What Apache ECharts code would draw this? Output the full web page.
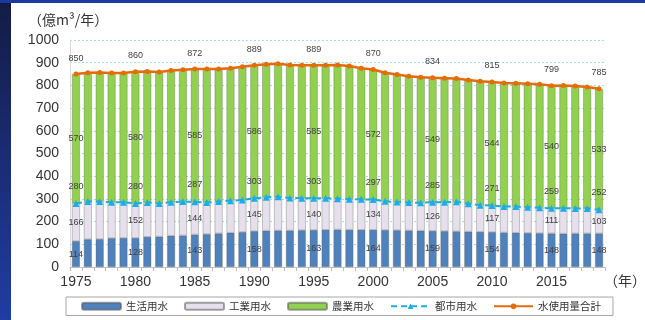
<!DOCTYPE html>
<html><head><meta charset="utf-8">
<script src="https://cdn.jsdelivr.net/npm/echarts@6/dist/echarts.min.js"></script>
<style>html,body{margin:0;padding:0;background:#fff;}#c{width:645px;height:320px;}</style>
</head><body><div id="c"></div>
<script>
const years = [1975,1976,1977,1978,1979,1980,1981,1982,1983,1984,1985,1986,1987,1988,1989,1990,1991,1992,1993,1994,1995,1996,1997,1998,1999,2000,2001,2002,2003,2004,2005,2006,2007,2008,2009,2010,2011,2012,2013,2014,2015,2016,2017,2018,2019];
const domestic = [114,122,123,127,128,128,133,134,138,139,143,145,148,151,154,158,160,161,161,162,163,164,165,164,164,164,163,162,161,160,159,158,157,156,155,154,152,151,150,149,148,147,148,148,148];
const industrial = [166,166,165,158,157,152,151,146,147,149,144,139,140,141,141,145,147,148,143,141,140,139,136,135,134,134,127,124,123,123,126,127,130,123,117,117,114,115,113,112,111,112,110,110,103];
const agricultural = [570,568,569,570,570,580,577,579,581,581,585,588,584,584,587,586,586,586,586,586,585,586,589,586,578,572,566,562,556,553,549,547,543,545,546,544,545,543,544,544,540,541,539,535,533];
const urban = [280,288,288,285,285,280,284,280,285,288,287,284,288,292,295,303,307,309,304,303,303,303,301,299,298,297,290,286,284,283,285,285,287,279,272,271,266,266,263,261,259,259,258,258,252];
const total = [850,856,857,855,855,860,861,859,866,869,872,872,872,876,882,889,893,895,890,889,889,889,890,885,876,870,856,848,840,836,834,832,830,824,818,815,811,809,807,805,799,800,797,793,785];
const labelYears = [1975,1980,1985,1990,1995,2000,2005,2010,2015,2019];
const tickYears = [1975,1980,1985,1990,1995,2000,2005,2010,2015];

const chart = echarts.init(document.getElementById('c'));
const lblFont = {fontSize: 9, color: '#404040', fontFamily: 'Liberation Sans, Arial, sans-serif'};
function withLabels(arr) {
  return arr.map((v, i) => ({value: v, label: {show: labelYears.includes(years[i])}}));
}
const barBorder = {borderColor: 'rgba(90,90,90,0.55)', borderWidth: 0.6};

chart.setOption({
  animation: false,
  backgroundColor: '#ffffff',
  textStyle: {fontFamily: '"Noto Sans CJK JP", "Liberation Sans", sans-serif'},
  grid: {left: 70, right: 40, top: 40, bottom: 53},
  xAxis: {
    type: 'category',
    data: years.map(String),
    boundaryGap: true,
    axisLine: {lineStyle: {color: '#bfbfbf', width: 1}},
    axisTick: {show: true, alignWithLabel: false, length: 4, lineStyle: {color: '#bfbfbf'}, interval: 0},
    axisLabel: {
      interval: (i, v) => tickYears.includes(+v),
      fontSize: 14, color: '#333', margin: 8,
      fontFamily: '"Liberation Sans", Arial, sans-serif'
    }
  },
  yAxis: {
    type: 'value', min: 0, max: 1000, interval: 100,
    axisLine: {show: true, lineStyle: {color: '#d9d9d9'}},
    axisTick: {show: false},
    axisLabel: {fontSize: 14, color: '#333', margin: 11, formatter: v => String(v),
      fontFamily: '"Liberation Sans", Arial, sans-serif'},
    splitLine: {lineStyle: {color: '#a8dcef', type: [2, 2], width: 1}}
  },
  legend: {
    left: 66, top: 297,
    itemWidth: 39, itemHeight: 7, itemGap: 16,
    borderColor: '#a6a6a6', borderWidth: 1, padding: [4, 12, 4, 15],
    textStyle: {fontSize: 10.5, color: '#333', fontFamily: '"Noto Sans CJK JP", sans-serif'},
    data: ['生活用水', '工業用水', '農業用水', '都市用水', '水使用量合計']
  },
  graphic: [
    {type: 'rect', left: 0, top: 0, shape: {width: 11, height: 320}, z: 100,
     style: {fill: new echarts.graphic.LinearGradient(0, 0, 0, 1, [{offset: 0, color: '#141c45'}, {offset: 1, color: '#1f3da3'}])}},
    {type: 'rect', left: 0, top: 0, shape: {width: 645, height: 3}, z: 100, style: {fill: '#1b3aa0'}},
    {type: 'text', left: 28, top: 13, z: 100,
     style: {text: '（億m³/年）', fill: '#333', font: '14px "Noto Sans CJK JP", sans-serif'}},
    {type: 'text', left: 604, top: 274, z: 100,
     style: {text: '（年）', fill: '#333', font: '14px "Noto Sans CJK JP", sans-serif'}}
  ],
  series: [
    {name: '生活用水', type: 'bar', stack: 'w', barWidth: 8,
     itemStyle: Object.assign({color: '#4f81bd'}, barBorder),
     label: Object.assign({position: 'inside'}, lblFont),
     data: withLabels(domestic)},
    {name: '工業用水', type: 'bar', stack: 'w', barWidth: 8,
     itemStyle: Object.assign({color: '#e6e0ec'}, barBorder),
     label: Object.assign({position: 'inside'}, lblFont),
     data: withLabels(industrial)},
    {name: '農業用水', type: 'bar', stack: 'w', barWidth: 8,
     itemStyle: Object.assign({color: '#92d050'}, barBorder),
     label: Object.assign({position: 'inside'}, lblFont),
     data: withLabels(agricultural)},
    {name: '都市用水', type: 'line', z: 5,
     symbol: 'triangle', symbolSize: 7,
     lineStyle: {color: '#19aee8', width: 2, type: [6, 4]},
     itemStyle: {color: '#19aee8'},
     label: Object.assign({position: 'top', distance: 9}, lblFont),
     data: withLabels(urban)},
    {name: '水使用量合計', type: 'line', z: 6,
     symbol: 'circle', symbolSize: 5,
     lineStyle: {color: '#e46c0a', width: 2.5},
     itemStyle: {color: '#e46c0a'},
     label: Object.assign({position: 'top', distance: 9}, lblFont),
     data: withLabels(total)}
  ]
});
</script></body></html>
